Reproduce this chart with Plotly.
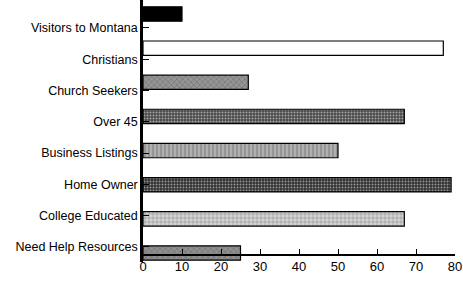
import plotly.graph_objects as go

# Data (bottom to top)
categories = ["Need Help Resources", "College Educated", "Home Owner", "Business Listings",
              "Over 45", "Church Seekers", "Christians", "Visitors to Montana"]
values = [25, 67, 79, 50, 67, 27, 77, 10]
x_ticks = [0, 10, 20, 30, 40, 50, 60, 70, 80]

# styles per bar (bottom to top)
bg_colors = ["#8f8f8f", "#d4d4d4", "#303030", "#b0b0b0", "#4a4a4a", "#959595", "#ffffff", "#000000"]
fg_colors = ["#dddddd", "#888888", "#aaaaaa", "#eeeeee", "#bbbbbb", "#e0e0e0", "#d8d8d8", "#000000"]
shapes = ["x", "+", ".", "|", ".", "x", ".", ""]
sizes = [4, 4, 3, 4, 3, 4, 24, 4]
solid = [0.25, 0.25, 0.35, 0.25, 0.35, 0.25, 0.03, 0.3]

pos = list(range(len(categories)))
tick_pos = [0.18 + 0.916 * i for i in pos]

fig = go.Figure(go.Bar(
    x=values, y=pos, orientation="h", width=0.42,
    marker=dict(
        color=bg_colors,
        line=dict(color="#000000", width=1.2),
        pattern=dict(shape=shapes, fgcolor=fg_colors,
                     size=sizes, solidity=solid, fillmode="overlay"),
    ),
))

W, H = 463, 283
plot_bottom = 262
axis_y = 255

fig.update_layout(
    width=W, height=H,
    margin=dict(l=143, r=8, t=0, b=H - plot_bottom, autoexpand=False),
    paper_bgcolor="white", plot_bgcolor="white",
    showlegend=False,
    font=dict(family="Liberation Sans, Arial, sans-serif", size=12.5, color="#000000"),
    xaxis=dict(
        range=[0, 80], tickvals=x_ticks, ticktext=[str(t) for t in x_ticks],
        showgrid=False, zeroline=False, automargin=False,
        showline=True, linecolor="#000000", linewidth=1.5,
        ticks="inside", ticklen=5, tickcolor="#000000", tickwidth=1.2,
        anchor="free", position=(plot_bottom - axis_y) / plot_bottom,
        tickfont=dict(size=13),
    ),
    yaxis=dict(
        range=[(253 - plot_bottom) / 34.14, 253 / 34.14],
        tickvals=tick_pos, ticktext=categories,
        showgrid=False, zeroline=False, automargin=False,
        showline=True, linecolor="#000000", linewidth=2.5,
        ticks="inside", ticklen=6, tickcolor="#000000", tickwidth=1.2,
        tickfont=dict(size=12.5),
    ),
)

fig.write_html("out.html", config={"displayModeBar": False},
               post_script="document.body.style.margin='0';document.body.style.overflow='hidden';")
